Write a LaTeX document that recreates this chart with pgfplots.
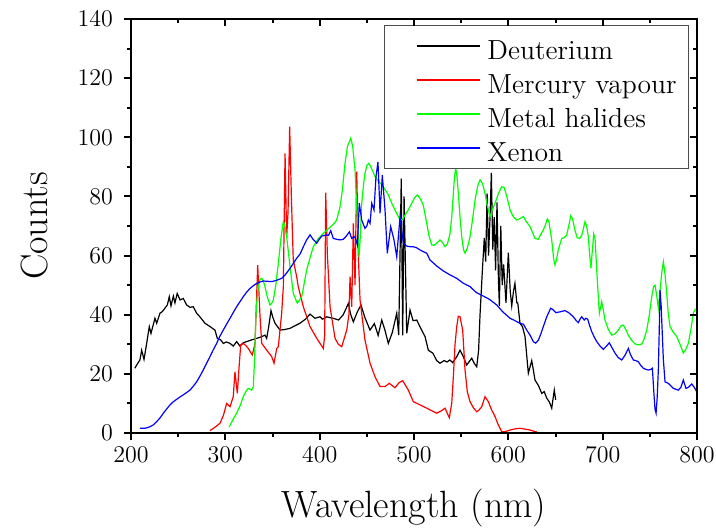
\documentclass[border=0pt]{standalone}
\usepackage{pgfplots}
\pgfplotsset{compat=1.18}
\begin{document}
\begin{tikzpicture}
\useasboundingbox (-65.5pt,-47pt) rectangle (292.5pt,216.5pt);
\pgfplotsset{
  common/.style={
    width=283pt, height=207pt, scale only axis,
    xmin=200, xmax=800, ymin=0, ymax=140,
    xtick={200,300,...,800}, ytick={0,20,...,140},
    minor x tick num=1, minor y tick num=1,
    axis line style={line width=1pt},
    every tick/.style={black, line width=1pt},
    major tick length=3.5pt, minor tick length=2pt,
  }
}
\begin{axis}[common, at={(0,0)}, anchor=south west,
  xtick pos=left, ytick pos=left, tick align=outside,
  ticklabel style={font=\fontsize{12.5}{14}\selectfont},
  yticklabel style={xshift=-2pt},
  xlabel={Wavelength (nm)}, ylabel={Counts},
  label style={font=\fontsize{19}{22}\selectfont},
  xlabel style={at={(axis description cs:0.5,-0.181)}, anchor=center},
  ylabel style={at={(axis description cs:-0.17,0.5)}, anchor=center},
  legend style={at={(0.986,0.9855)}, anchor=north east, draw=black!70, line width=0.5pt,
    inner xsep=6pt, inner ysep=2pt, font=\fontsize{13.8}{16}\selectfont, row sep=0.5pt,
    nodes={inner sep=0pt, text height=15pt, text depth=1.5pt}},
  legend cell align=left,
  legend image code/.code={\path (0pt,0pt) (45pt,0pt); \draw[#1] (10pt,0pt) -- (41.5pt,0pt);},
  every axis plot/.append style={line width=0.6pt},
]
\addplot[black] coordinates {
(204,21.9)(207,23.5)(209.5,24.7)(211.3,28)(213.8,24.9)(216.6,30.3)(219.4,36)(221.2,33.7)
(225.4,38.8)(227.2,37.1)(230.7,40.5)(233,41)(236,42.2)(238.5,43.3)(240.6,46.1)(242.4,43)
(244.9,46.3)(246.6,44)(249,47.2)(252,45)(255.4,45.5)(259,43.3)(262.5,42.5)(266,42.7)
(269.6,40.5)(273,39.3)(278.5,37.1)(283.7,36)(289,34.8)(291.5,32)(295,31.5)(297.9,30.3)
(301,30.8)(305,30.3)(308.4,29.4)(312,30.9)(315.5,29.4)(319,30.5)(322.6,30.9)(328,31.5)
(333.2,32)(338,32.5)(342,33.1)(343.8,32)(346,36)(348.4,41.4)(350.5,39)(352.7,37.1)
(358,34.8)(363,35)(368.6,35.4)(374,36.3)(379,37.1)(385,38.5)(389.8,40.2)(395,38.8)
(400.3,39.3)(403,38.5)(407.4,39.3)(411,39)(414.5,38.8)(420,38.2)(425,40)(430.4,43.8)
(433,40)(435.7,37.6)(440,41)(443.8,43.3)(448,39)(453.4,34.8)(458,37)(462,33)
(465.8,38.2)(469,35)(472.8,30.3)(477,34)(481.7,40.5)(483.8,33.1)(486.5,86)(488,33)
(489.5,80)(492.3,33.7)(495.8,41.6)(499,38)(502.9,38.2)(507,35.5)(511.7,32.6)(515.2,28)
(520,27)(524,24.5)(527.6,23.6)(532,24.5)(535,24)(538,24.7)(541,23.8)(545.3,25.8)
(548.8,28)(552,26)(555.9,23)(561.2,25.3)(564,23.5)(566.5,22.4)(568.5,28)(570,40)
(572.5,55)(574.5,66)(576,58)(577.5,81)(579,60)(580.5,72)(582,88)(583.5,62)
(585,73)(586.5,55)(588,78)(589.5,52)(590.5,43)(592,70)(593.5,50)(595,57)
(597.5,44)(600,61)(602,48)(603.6,43)(605.5,48)(607,50.6)(609,44)(610,44)
(612.4,37)(615,36)(617.7,32.6)(621.2,20.2)(624.8,24.5)(628.3,17.9)(632,16)(635.4,13.4)
(638,14)(640.7,11.8)(643.5,10.5)(646,8.4)(648.7,14.5)(650.2,11.2)
};
\addlegendentry{Deuterium}
\addplot[red] coordinates {
(283.7,0.8)(290,2.2)(294.3,3.3)(298,6)(301.4,10)(305,8.9)(308.4,12.3)(310.2,20.7)
(312.7,13.4)(314.5,22)(316.3,29.8)(319,30.3)(322,29.5)(324.3,28.6)(328.6,26.4)(331.5,30.3)
(334.3,56.8)(336.8,39.3)(338.6,30.3)(343.9,28)(349.2,25.8)(351.6,23.6)(354.5,28.6)(356.2,29.2)
(359.7,40.5)(361.5,49.5)(363.3,94.6)(365,66)(366.5,75)(368.2,103.6)(370,80)(372,58.5)
(375.6,52.9)(377.3,49.5)(382.7,42.7)(389.8,36)(396.9,32)(400.4,30.3)(403.9,28.6)(405.3,33)
(406.4,81.3)(408.1,60.8)(411,42.7)(416.3,32)(419.8,30)(423.4,29.2)(428.7,34.8)(431,40)
(432.2,52.9)(434,42.7)(435.7,70.9)(437.5,50)(439.3,88.4)(441,60)(442.8,45)(448,31.5)
(453.4,23.6)(458.7,19)(464,15.7)(469.3,15.7)(473.8,16.8)(479.9,15.3)(484,17)(488,17.7)
(494,14.5)(499.3,10.6)(506.4,9.5)(513.5,8.4)(517,7.8)(524,6.7)(529,7.5)(532.9,8.4)
(535.5,6.5)(537.4,5.2)(540,10)(541.7,19)(543.5,30)(545.3,36)(547,39.5)(548.8,39.3)
(551.6,34.8)(554.1,21.3)(556.5,14)(559.4,10.6)(563,8.5)(566.5,7.2)(569,7.8)(571.8,8.9)
(575.3,12.3)(578.8,10.6)(582,8)(586,5.5)(589,3)(593,0.4)(597,0.5)(601.8,1)
(607,1.4)(612.4,1.6)(618,1.3)(623,1)(627,0.6)(630,0.4)
};
\addlegendentry{Mercury vapour}
\addplot[green] coordinates {
(304,2)(308,4.5)(312,6.7)(316,9.5)(319,12.3)(322,14.2)(324.3,15.1)(327.9,14.5)
(329.7,15.7)(331,25)(332.2,38.2)(333.5,45)(335,49.5)(336.8,52)(338.6,52.3)(340.3,51.5)
(342,49.5)(344.5,46)(347.3,43.3)(349,43.8)(350.9,45)(353.5,50)(356.2,57.4)(359,66)
(361.5,71.5)(363.2,70)(365,66.4)(368.6,56.2)(372,47.2)(376.3,43.9)(381,46.1)(386.2,55.1)
(390,59.5)(393.3,63)(398,65.5)(403.9,67.5)(409,69)(414.5,70.6)(418,72)(421.6,76.5)
(424,82)(426.9,91.2)(429.5,97)(432.9,99.7)(435,97)(437.5,88.9)(439.9,72)(441.7,59.6)
(443,66)(444.6,77.7)(446.5,84)(448,87.8)(450,90.5)(452.3,91.2)(455,89.5)(458.7,86.7)
(462,85.3)(465.8,83.9)(469,82.5)(472.8,80.5)(476,78)(479.9,75.4)(485.2,72)(488,72.3)
(490.5,73.7)(494,75.5)(497.6,77.7)(500.5,79.5)(503.5,80.5)(506.4,79.4)(509.9,77)(513.5,70.9)
(516,66.5)(518.8,63.6)(521.5,63.5)(524,64.2)(527.6,65.3)(530,64.5)(532.9,63)(535.5,64)
(538.2,67.5)(540,73)(541.7,81)(543,87)(544.3,89.5)(545.5,87)(547,81)(548.8,73)
(550.6,66.4)(552.5,62)(554.1,60.8)(556.5,62.5)(559.4,66.4)(562,72)(564.7,78.8)(567.5,83.5)
(570,85.6)(572.5,84.5)(575.3,81)(578,76.5)(580.6,73.2)(583,75.5)(585.9,77.7)(589.5,81)
(593,83.3)(595.5,83)(597.5,81)(599.5,78.5)(601.8,75.4)(605.5,73)(608.9,72)(612.4,72.5)
(615.9,73.2)(619,71.5)(623,69.8)(626,67.5)(628.3,65.8)(631.8,65.5)(634,67)(636.5,68.3)
(638.9,70)(641.3,72.4)(643,71.5)(646,65.3)(648,59)(649.5,56.8)(651,58.5)(653,62)
(656.6,65.8)(659,66)(661.9,67)(664,70)(666.2,73.5)(668,72.5)(670.7,68.5)(673,66)
(675.6,65.8)(678,67)(681.3,71.5)(683,70)(684.8,66.4)(686,61)(687.5,55.7)(688.6,60)
(690.5,67.3)(692,65.5)(693.7,55.1)(695.4,46)(696.5,40.5)(697.8,42.5)(699,44.4)(700.5,42)
(702.5,38.2)(706,35)(709.6,33.1)(713,33.5)(716.6,34.8)(719.5,36.3)(721.9,36.5)(724.5,35)
(727.2,33.1)(731,31.2)(734.4,30.1)(738,29.8)(741.4,30.1)(744,31.8)(746.7,34.8)(749.5,40)
(752,46.1)(754,49.5)(755.5,50)(757.3,46.5)(759,42.2)(760.5,47)(762.5,54)(764.3,57.9)
(766,54)(767.9,47.2)(769.5,40.5)(771.4,36)(774,34.5)(778.5,32.6)(782,30)(785.5,27)
(788,28.2)(790.8,30.3)(793.5,35)(796.1,40.5)(798,41.8)(800,41.6)
};
\addlegendentry{Metal halides}
\addplot[blue] coordinates {
(209.5,1.6)(215,1.6)(220,2.1)(224,2.8)(227,3.8)(230.5,5)(234.3,6.7)(238,8.2)
(241.3,9.5)(245,10.6)(248.4,11.4)(252,12.2)(255.4,12.9)(259,13.7)(262.5,14.5)(266,15.8)
(269.6,17.3)(273,19.2)(276.6,21.3)(280,23.5)(283.7,25.8)(287,28)(290.8,30.3)(294,32.6)
(297.8,34.8)(301.5,36.9)(305,38.8)(308.5,40.8)(312,42.7)(315.5,44.4)(319,46.1)(322.5,47.6)
(326.2,48.9)(330,49.9)(333.3,50.6)(337,51.1)(340.2,51.4)(345,51.3)(349.2,51.2)(354,51.6)
(359.8,52.3)(364,53.7)(368.6,55.7)(372,57.3)(375.6,59.1)(379.2,60.5)(382.7,63)(386,65.2)
(389.8,67)(393,65.5)(396.9,64.2)(399.5,65.5)(402.2,66.6)(405,66.8)(407.5,67)(409.2,66.8)
(411.7,68.4)(414.5,65.8)(418,65.5)(421.6,65.3)(425,65.5)(428,66.5)(431.5,68)(434,65.8)
(437.5,66.4)(440,63.6)(442,77.7)(444.6,72)(448,69.2)(450,70)(451.6,72)(453.4,70.9)
(455.2,77.7)(457.6,75.4)(459.7,86.7)(461.8,91.7)(464,74.3)(466.4,87.2)(469.3,75.4)(471.7,60.8)
(475.3,69.8)(478.8,65.3)(481.7,59.6)(485.2,73.2)(488.7,64.2)(492.3,63.2)(496,63)(499.3,63)
(503,62.6)(506.4,61.9)(510,61.3)(513.5,60.8)(517,58.5)(524,56.5)(531.1,54.8)(538,53.5)
(545.3,52.3)(552,50.7)(559.4,49.5)(566,47.5)(573.5,46.3)(580,45.2)(587.7,43.3)(594,41)
(601.8,38.8)(607,38)(612.4,37.1)(616,36.8)(619.5,34.8)(623,33.1)(626.5,30.9)(629,30.4)
(631.8,31.4)(634.5,33.5)(637.1,36)(640.7,39.3)(644.9,42.2)(647,41.8)(650.5,40.7)(655,41)
(660,41.4)(664,40.7)(668.9,39.3)(672,38)(674.2,37.3)(676,38.5)(677.8,39.3)(680.5,38.2)
(682.3,38.8)(684.1,38.5)(686,36.5)(688.4,34.3)(691,32.5)(693.7,30.9)(697,29.5)(700.7,28.3)
(703.5,29.2)(707,30.5)(710,28.8)(713.1,27)(716.5,25.5)(720.2,24.7)(723.5,26.2)(727.2,28.6)
(729.5,26.5)(732.5,24.7)(735,24.5)(737.8,24.1)(740.5,22.8)(743.1,21.9)(746,21.5)(748.4,21.3)
(751,21.5)(752.7,21.9)(754.2,14)(755.5,8)(756.6,6.7)(757.8,12)(759,21.3)(760,35)
(760.8,48.4)(762,43)(762.6,38.2)(764.3,25)(766.1,17.3)(769.6,16.8)(772,16)(774.9,15.1)
(780.2,14.5)(783,15.5)(785.5,17.9)(788.3,15.1)(791,15.5)(794.4,16.6)(797,15.5)(799.7,14)
};
\addlegendentry{Xenon}
\end{axis}
\begin{axis}[common, at={(0,0)}, anchor=south west,
  xtick pos=right, ytick pos=right, tick align=inside,
  xticklabels={}, yticklabels={}]
\end{axis}
\end{tikzpicture}
\end{document}
